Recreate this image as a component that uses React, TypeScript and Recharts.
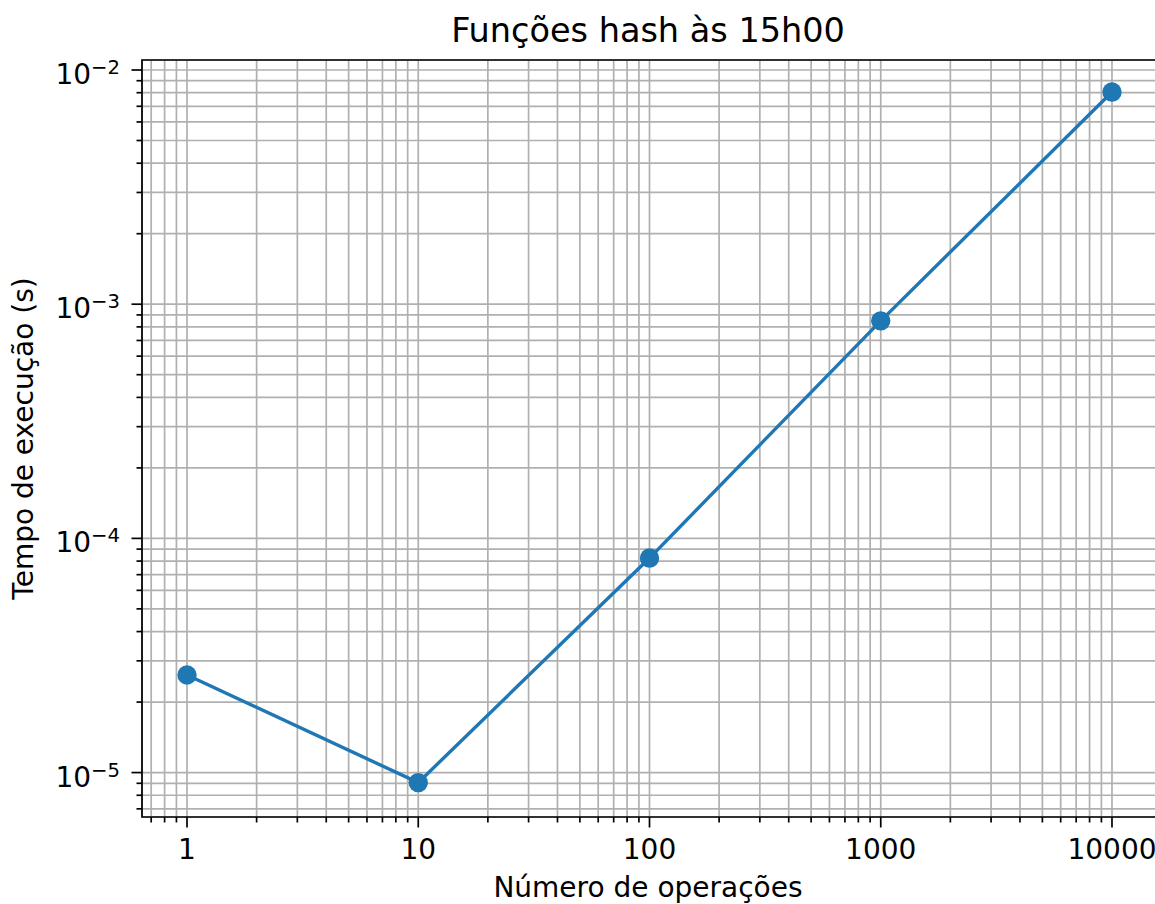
import React from 'react';
import { LineChart, Line, XAxis, YAxis, CartesianGrid, ReferenceArea } from 'recharts';

const operations = [1, 10, 100, 1000, 10000];
const times = [2.61e-5, 9.06e-6, 8.24e-5, 8.49e-4, 8.05e-3];

const xMajorTicks = [1, 10, 100, 1000, 10000];
const xMinorTicks = [
  0.7, 0.8, 0.9,
  2, 3, 4, 5, 6, 7, 8, 9,
  20, 30, 40, 50, 60, 70, 80, 90,
  200, 300, 400, 500, 600, 700, 800, 900,
  2000, 3000, 4000, 5000, 6000, 7000, 8000, 9000,
];
const yMajorTicks = [1e-5, 1e-4, 1e-3, 1e-2];
const yMajorExponents = ['−5', '−4', '−3', '−2'];
const yMinorTicks = [
  7e-6, 8e-6, 9e-6,
  2e-5, 3e-5, 4e-5, 5e-5, 6e-5, 7e-5, 8e-5, 9e-5,
  2e-4, 3e-4, 4e-4, 5e-4, 6e-4, 7e-4, 8e-4, 9e-4,
  2e-3, 3e-3, 4e-3, 5e-3, 6e-3, 7e-3, 8e-3, 9e-3,
];

const xDomain = [0.6388, 15655];
const yDomain = [6.461e-6, 0.011034];

const titleText = 'Funções hash às 15h00';
const xLabelText = 'Número de operações';
const yLabelText = 'Tempo de execução (s)';

const data = operations.map((op, i) => ({ op, time: times[i] }));

const FONT = '"DejaVu Sans", sans-serif';

const XTick = (props: any) => {
  const { x, y, payload } = props;
  const v = payload.value;
  const major = xMajorTicks.includes(v);
  return (
    <g>
      <line x1={x} x2={x} y1={y} y2={y + (major ? 10.5 : 5.5)} stroke="#000" strokeWidth={1.7} />
      {major && (
        <text x={x} y={y + 42} textAnchor="middle" fontSize={28} fontFamily={FONT} fill="#000">
          {String(v)}
        </text>
      )}
    </g>
  );
};

const YTick = (props: any) => {
  const { x, y, payload } = props;
  const v = payload.value;
  const idx = yMajorTicks.indexOf(v);
  const major = idx >= 0;
  return (
    <g>
      <line x1={x} x2={x - (major ? 10.5 : 5.5)} y1={y} y2={y} stroke="#000" strokeWidth={1.7} />
      {major && (
        <text x={x - 22} y={y + 14} textAnchor="end" fontSize={28} fontFamily={FONT} fill="#000">
          10
          <tspan dy={-10} fontSize={19.6}>{yMajorExponents[idx]}</tspan>
        </text>
      )}
    </g>
  );
};

export default function App() {
  return (
    <div style={{ position: 'absolute', left: 0, top: 0, width: 1155, height: 904, overflow: 'hidden', background: '#fff' }}>
      <LineChart width={1157} height={904} data={data} margin={{ top: 60, right: 0, bottom: 0, left: 0 }}>
        <CartesianGrid stroke="#b0b0b0" strokeWidth={1.7} />
        <XAxis
          dataKey="op"
          type="number"
          scale="log"
          domain={xDomain}
          allowDataOverflow
          ticks={[...xMinorTicks, ...xMajorTicks].sort((a, b) => a - b)}
          interval={0}
          tickSize={0}
          tickMargin={0}
          tickLine={false}
          axisLine={false}
          tick={<XTick />}
          height={87}
        />
        <YAxis
          type="number"
          scale="log"
          domain={yDomain}
          allowDataOverflow
          ticks={[...yMinorTicks, ...yMajorTicks].sort((a, b) => a - b)}
          interval={0}
          tickSize={0}
          tickMargin={0}
          tickLine={false}
          axisLine={false}
          tick={<YTick />}
          width={142}
        />
        <Line
          dataKey="time"
          stroke="#1f77b4"
          strokeWidth={3.4}
          dot={{ r: 9.7, fill: '#1f77b4', stroke: 'none' }}
          activeDot={false}
          isAnimationActive={false}
        />
        <ReferenceArea
          x1={xDomain[0]}
          x2={xDomain[1]}
          y1={yDomain[0]}
          y2={yDomain[1]}
          fill="none"
          fillOpacity={0}
          stroke="#000"
          strokeWidth={1.7}
          ifOverflow="visible"
        />
      </LineChart>
      <svg width={1155} height={904} style={{ position: 'absolute', left: 0, top: 0, pointerEvents: 'none' }}>
        <text x={648} y={42} textAnchor="middle" fontSize={33.5} fontFamily={FONT} fill="#000">{titleText}</text>
        <text x={648} y={897} textAnchor="middle" fontSize={28} fontFamily={FONT} fill="#000">{xLabelText}</text>
        <text transform="translate(33,438.5) rotate(-90)" textAnchor="middle" fontSize={28} fontFamily={FONT} fill="#000">{yLabelText}</text>
      </svg>
    </div>
  );
}
